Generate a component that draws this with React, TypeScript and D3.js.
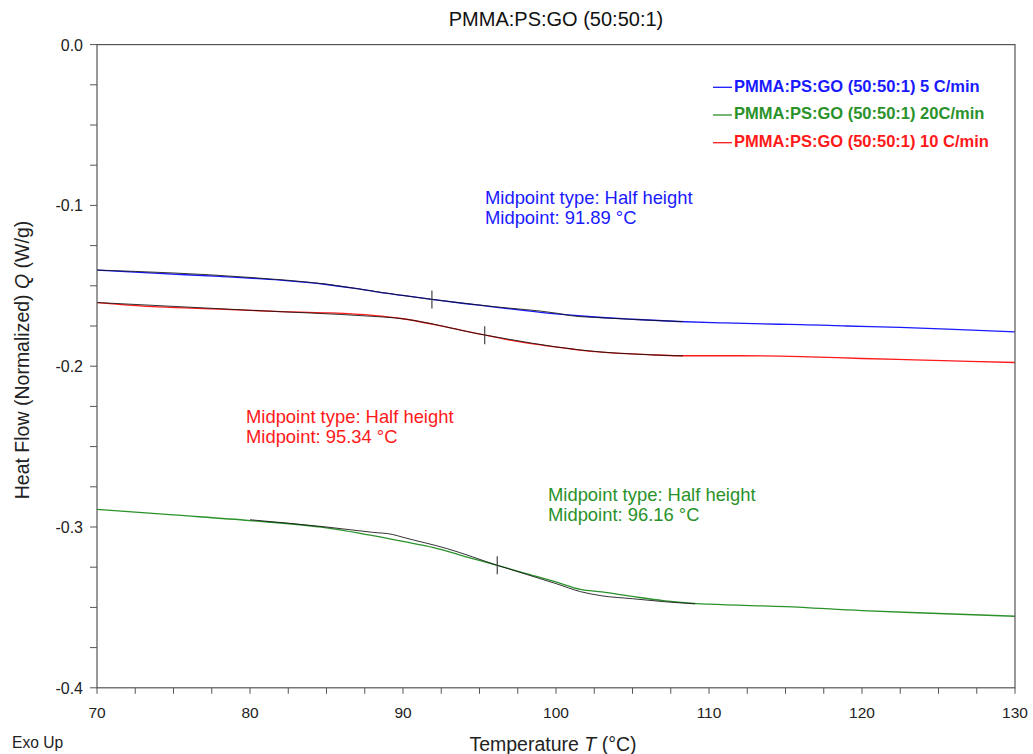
import React from "react";
import * as d3 from "d3";

const title = "PMMA:PS:GO (50:50:1)";
const xTicksMajor = [70, 80, 90, 100, 110, 120, 130];
const yTicksMajor = [0, -0.1, -0.2, -0.3, -0.4];

// Measured curves: [temperature °C, heat flow W/g]
const blue5: [number, number][] = [
  [70, -0.1402], [74, -0.1423], [78, -0.1442], [82, -0.1465], [85, -0.1492], [87, -0.1518], [88.5, -0.1541],
  [90, -0.156], [91.9, -0.1585], [94, -0.161], [96, -0.1632], [98, -0.1655], [100, -0.1675],
  [101, -0.1683], [103, -0.1697], [105, -0.1708], [108, -0.1722], [111, -0.1731], [114.6, -0.1739],
  [116, -0.1741], [119, -0.175], [122.5, -0.1759], [126, -0.1771], [130, -0.1787],
];
const red10: [number, number][] = [
  [70, -0.1604], [74, -0.1631], [78, -0.1645], [82, -0.166], [85, -0.1668], [88, -0.1684],
  [90, -0.1705], [92, -0.174], [94, -0.178], [95.4, -0.1807], [97, -0.1838], [99, -0.1868],
  [101, -0.1893], [102, -0.1905], [103.7, -0.1917], [106, -0.1928], [108, -0.1935], [112, -0.1935],
  [116, -0.194], [120, -0.1952], [124, -0.1962], [127, -0.197], [130, -0.1977],
];
const green20: [number, number][] = [
  [70, -0.289], [75, -0.2925], [80, -0.296], [85, -0.3005], [88.5, -0.3062], [90, -0.309],
  [92, -0.3128], [94, -0.3182], [96.16, -0.3238], [98, -0.3288], [100, -0.3342], [101.6, -0.3388],
  [103, -0.3404], [105, -0.3432], [107, -0.3458], [109, -0.3475], [110, -0.348], [115, -0.3495],
  [120, -0.352], [125, -0.3538], [130, -0.3555],
];

// Black analysis fits
const blueFit: [number, number][] = [
  [70, -0.1402], [80, -0.1448], [85, -0.149], [88.5, -0.154], [91.9, -0.1585], [96, -0.163],
  [100, -0.167], [101, -0.1686], [103, -0.1699], [105, -0.1709], [108.3, -0.1723],
];
const redFit: [number, number][] = [
  [70, -0.1604], [80, -0.1652], [88, -0.169], [89.5, -0.17], [95.4, -0.1807], [101.5, -0.1898],
  [103, -0.1912], [105, -0.1924], [108.3, -0.1936],
];
const greenFit: [number, number][] = [
  [80, -0.2955], [85, -0.3], [88, -0.3033], [89.3, -0.3046], [90, -0.3064], [92.9, -0.3135],
  [96.16, -0.3238], [100, -0.3352], [101.6, -0.3402], [103, -0.3428], [105, -0.3446],
  [107, -0.3464], [109.1, -0.3478],
];

const midpoints = [
  { t: 91.89, v: -0.1585 },
  { t: 95.34, v: -0.1807 },
  { t: 96.16, v: -0.3238 },
];

const legendItems = [
  { label: "PMMA:PS:GO (50:50:1) 5 C/min", color: "#1a1aff" },
  { label: "PMMA:PS:GO (50:50:1) 20C/min", color: "#2a922a" },
  { label: "PMMA:PS:GO (50:50:1) 10 C/min", color: "#ff1a1a" },
];

const annotations = [
  { lines: ["Midpoint type: Half height", "Midpoint: 91.89 °C"], x: 485, y: 204, color: "#1a1aff" },
  { lines: ["Midpoint type: Half height", "Midpoint: 95.34 °C"], x: 246, y: 423, color: "#ff1a1a" },
  { lines: ["Midpoint type: Half height", "Midpoint: 96.16 °C"], x: 548, y: 501, color: "#2a922a" },
];

const W = 1033, H = 754;
const L = 97, R = 1015, T = 44.6, B = 687.8;

export default function App() {
  const x = d3.scaleLinear().domain([70, 130]).range([L, R]);
  const y = d3.scaleLinear().domain([0, -0.4]).range([T, B]);
  const line = d3.line<[number, number]>().x((d) => x(d[0])).y((d) => y(d[1])).curve(d3.curveMonotoneX);
  const xMinor = d3.range(70, 130.01, 2.5);
  const yMinor = d3.range(0, -0.4001, -0.025);
  const font = "Arial, 'Liberation Sans', sans-serif";
  const axisColor = "#555";

  return (
    <svg width={W} height={H} style={{ position: "absolute", left: 0, top: 0, background: "#fff" }} fontFamily={font}>
      <rect x={0} y={0} width={W} height={H} fill="#fff" />
      <text x={556} y={26} textAnchor="middle" fontSize={20} fill="#111">{title}</text>

      {/* curves */}
      <path d={line(blue5) || ""} fill="none" stroke="#1a1aff" strokeWidth={1.3} />
      <path d={line(red10) || ""} fill="none" stroke="#ff1a1a" strokeWidth={1.3} />
      <path d={line(green20) || ""} fill="none" stroke="#2a922a" strokeWidth={1.3} />
      <path d={line(blueFit) || ""} fill="none" stroke="#111" strokeWidth={1} opacity={0.85} />
      <path d={line(redFit) || ""} fill="none" stroke="#111" strokeWidth={1} opacity={0.85} />
      <path d={line(greenFit) || ""} fill="none" stroke="#111" strokeWidth={1} opacity={0.85} />

      {midpoints.map((m, i) => (
        <line key={i} x1={x(m.t)} x2={x(m.t)} y1={y(m.v) - 9} y2={y(m.v) + 9} stroke="#444" strokeWidth={1.2} />
      ))}

      {/* frame */}
      <rect x={L} y={T} width={R - L} height={B - T} fill="none" stroke={axisColor} strokeWidth={1.2} />

      {/* y ticks */}
      {yMinor.map((v, i) => (
        <line key={i} x1={L - 7} x2={L} y1={y(v)} y2={y(v)} stroke={axisColor} strokeWidth={1} />
      ))}
      {yTicksMajor.map((v, i) => (
        <text key={i} x={83} y={y(v) + 6} textAnchor="end" fontSize={16} fill="#222">{d3.format(".1f")(v).replace("−", "-")}</text>
      ))}
      {/* x ticks */}
      {xMinor.map((v, i) => (
        <line key={i} x1={x(v)} x2={x(v)} y1={B} y2={B + 6} stroke={axisColor} strokeWidth={1} />
      ))}
      {xTicksMajor.map((v, i) => (
        <text key={i} x={x(v)} y={718} textAnchor="middle" fontSize={15.5} fill="#222">{v}</text>
      ))}

      <text x={553} y={751} textAnchor="middle" fontSize={19.5} fill="#222">
        Temperature <tspan fontStyle="italic">T</tspan> (°C)
      </text>
      <text transform="translate(29,360) rotate(-90)" textAnchor="middle" fontSize={19.5} fill="#222">
        Heat Flow (Normalized)  <tspan fontStyle="italic">Q</tspan> (W/g)
      </text>
      <text x={12} y={748} fontSize={15.6} fill="#222">Exo Up</text>

      {/* legend */}
      {legendItems.map((it, i) => (
        <g key={i}>
          <line x1={713} x2={732} y1={87.3 + i * 27.7} y2={87.3 + i * 27.7} stroke={it.color} strokeWidth={1.3} />
          <text x={734} y={91.5 + i * 27.7} fontSize={16.5} fontWeight="bold" fill={it.color}>{it.label}</text>
        </g>
      ))}

      {/* annotations */}
      {annotations.map((a, i) => (
        <text key={i} fontSize={18.4} fill={a.color}>
          {a.lines.map((l, j) => (
            <tspan key={j} x={a.x} y={a.y + j * 20}>{l}</tspan>
          ))}
        </text>
      ))}
    </svg>
  );
}
